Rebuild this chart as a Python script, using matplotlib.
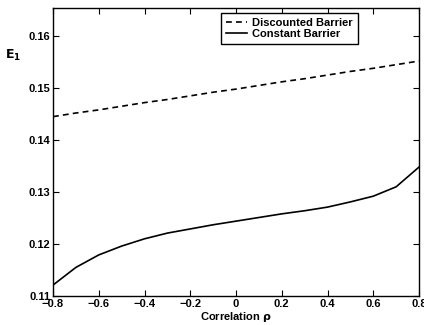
import matplotlib
matplotlib.use("Agg")
import matplotlib.pyplot as plt
from matplotlib.ticker import FuncFormatter

# correlation values and the two E_1 curves
rho = [-0.8, -0.7, -0.6, -0.5, -0.4, -0.3, -0.2, -0.1, 0.0,
	0.1, 0.2, 0.3, 0.4, 0.5, 0.6, 0.7, 0.8]
discounted = [0.1445, 0.1452, 0.1458, 0.1465, 0.1472, 0.1478, 0.1485,
	0.1492, 0.1498, 0.1505, 0.1512, 0.1518, 0.1525, 0.1532, 0.1538,
	0.1545, 0.1552]
constant = [0.1121, 0.1155, 0.1179, 0.1196, 0.1210, 0.1221, 0.1229,
	0.1237, 0.1244, 0.1251, 0.1258, 0.1264, 0.1271, 0.1281, 0.1292,
	0.1310, 0.1348]
xticks = [-0.8, -0.6, -0.4, -0.2, 0, 0.2, 0.4, 0.6, 0.8]
yticks = [0.11, 0.12, 0.13, 0.14, 0.15, 0.16]

plt.rcParams["font.family"] = ["Liberation Sans", "DejaVu Sans"]
plt.rcParams["font.weight"] = "bold"
plt.rcParams["mathtext.fontset"] = "dejavusans"


def fmt(v, pos):
	s = "%g" % (round(v, 6))
	return s.replace("-", "\u2212")


fig = plt.figure(figsize = (4.24, 3.25), dpi = 100)
ax = fig.add_axes([53 / 424, 29 / 325, 366 / 424, 288 / 325])
ax.plot(rho, discounted, c = "black", lw = 1.2, dashes = (3.5, 2.5),
	label = "Discounted Barrier")
ax.plot(rho, constant, c = "black", lw = 1.2, label = "Constant Barrier")
ax.set_xlim([-0.8, 0.8])
ax.set_ylim([0.11, 0.1654])
ax.set_xticks(xticks)
ax.set_yticks(yticks)
ax.xaxis.set_major_formatter(FuncFormatter(fmt))
ax.yaxis.set_major_formatter(FuncFormatter(fmt))
ax.tick_params(direction = "in", length = 4, width = 0.8, top = True,
	right = True, labelsize = 8, pad = 2)
for lab in ax.get_xticklabels() + ax.get_yticklabels():
	lab.set_fontweight("bold")
for sp in ax.spines.values():
	sp.set_linewidth(1.0)
ax.set_xlabel(r"Correlation $\mathrm{\rho}$", fontsize = 8,
	fontweight = "bold", labelpad = 1)
ax.text(-0.11, 0.835, r"$\mathbf{E}_\mathbf{1}$", transform = ax.transAxes,
	fontsize = 9, ha = "center", va = "center")
leg = ax.legend(loc = "upper left", bbox_to_anchor = (168 / 366, 1 - 5 / 288),
	fontsize = 8, frameon = True, fancybox = False, framealpha = 1,
	edgecolor = "black", borderpad = 0.45, labelspacing = 0.1,
	handlelength = 1.9, handletextpad = 0.45, borderaxespad = 0)
leg.get_frame().set_linewidth(1.0)
for t in leg.get_texts():
	t.set_fontweight("bold")
plt.savefig("out.png", dpi = 100)
